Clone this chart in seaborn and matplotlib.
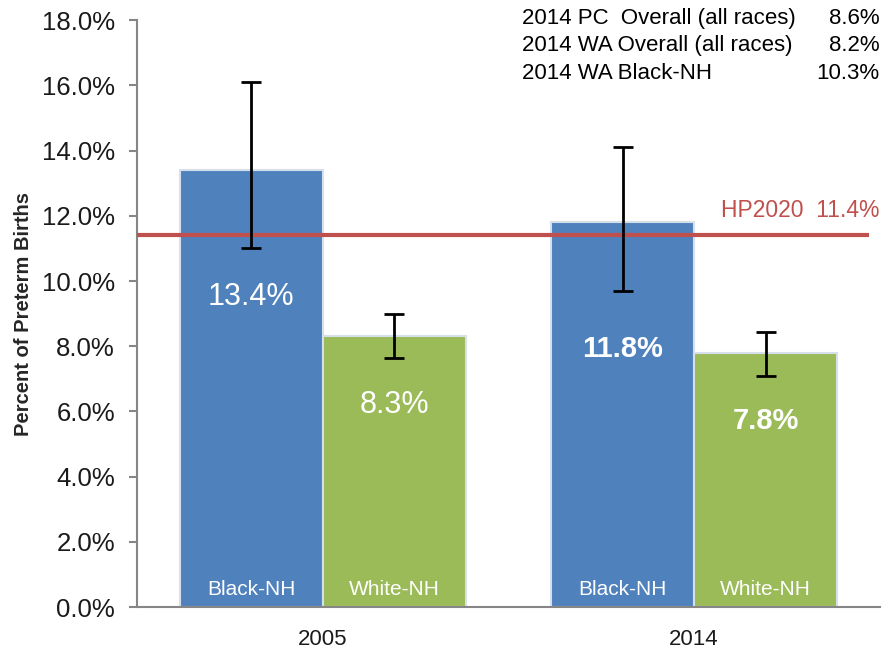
import matplotlib
matplotlib.use("Agg")
import matplotlib.pyplot as plt
import seaborn as sns
import pandas as pd
from matplotlib.ticker import FuncFormatter

years = ["2005", "2014"]
races = ["Black-NH", "White-NH"]
values = {"Black-NH": [13.4, 11.8], "White-NH": [8.3, 7.8]}
ci_low = {"Black-NH": [11.0, 9.7], "White-NH": [7.65, 7.1]}
ci_high = {"Black-NH": [16.1, 14.1], "White-NH": [9.0, 8.45]}
value_labels = {"Black-NH": ["13.4%", "11.8%"], "White-NH": ["8.3%", "7.8%"]}
hp2020 = 11.4
hp_label = "HP2020  11.4%"
y_ticks = [0, 2, 4, 6, 8, 10, 12, 14, 16, 18]
info_names = ["2014 PC  Overall (all races)", "2014 WA Overall (all races)", "2014 WA Black-NH"]
info_values = ["8.6%", "8.2%", "10.3%"]

rows = []
for r in races:
    for i, y in enumerate(years):
        rows.append({"year": y, "race": r, "value": values[r][i]})
df = pd.DataFrame(rows)

sns.set_theme(style="white")
plt.rcParams["font.family"] = ["Liberation Sans", "DejaVu Sans"]

fig = plt.figure(figsize=(8.85, 6.53), dpi=100)
ax = fig.add_axes([0.155, 0.0704, 0.839, 0.8986])

colors = ["#4F81BD", "#9BBB59"]
sns.barplot(data=df, x="year", y="value", hue="race", order=years, hue_order=races,
            palette=colors, saturation=1, width=0.77, edgecolor="#D6DFEA",
            linewidth=1.5, ax=ax, legend=False, errorbar=None)

ax.set_xlim(-0.5, 1.5)
ax.set_ylim(0, 18)
ax.set_yticks(y_ticks)
ax.yaxis.set_major_formatter(FuncFormatter(lambda v, p: f"{v:.1f}%"))

patches = [p for p in ax.patches if p.get_height() > 0]
label_off = {"Black-NH": 3.9, "White-NH": 2.1}
k = 0
for r in races:
    for i, y in enumerate(years):
        p = patches[k]
        k += 1
        cx = p.get_x() + p.get_width() / 2
        v = values[r][i]
        w = "bold" if i == 1 else "normal"
        ax.errorbar([cx], [v], yerr=[[v - ci_low[r][i]], [ci_high[r][i] - v]],
                    fmt="none", ecolor="black", elinewidth=2, capsize=7,
                    capthick=2, zorder=5)
        ax.text(cx, v - label_off[r], value_labels[r][i], ha="center", va="center",
                color="white", fontsize=22 if i == 0 else 21, fontweight=w, zorder=6)
        ax.text(cx, 0.55, r, ha="center", va="center", color="white",
                fontsize=15, zorder=6)

ax.plot([-0.5, 1.47], [hp2020, hp2020], color="#C0504D", lw=3, zorder=4, solid_capstyle="butt")
ax.text(1.5, hp2020 + 0.4, hp_label, ha="right", va="bottom", color="#C0504D", fontsize=16.5)

for j, (n, v) in enumerate(zip(info_names, info_values)):
    yy = 0.988 - j * 0.042
    fig.text(0.59, yy, n, ha="left", va="top", fontsize=16, color="black")
    fig.text(0.994, yy, v, ha="right", va="top", fontsize=16, color="black")

ax.set_xlabel("")
ax.set_ylabel("Percent of Preterm Births", fontsize=14.5, fontweight="bold", labelpad=6)
ax.tick_params(axis="y", which="major", left=True, direction="out", length=6,
               width=1.5, color="#868686", labelsize=18.5, pad=10, labelcolor="#1a1a1a")
ax.tick_params(axis="x", bottom=False, labelsize=16, pad=10, labelcolor="#1a1a1a")
for s in ["top", "right"]:
    ax.spines[s].set_visible(False)
for s in ["left", "bottom"]:
    ax.spines[s].set_color("#868686")
    ax.spines[s].set_linewidth(1.5)

fig.savefig("out.png", dpi=100)
